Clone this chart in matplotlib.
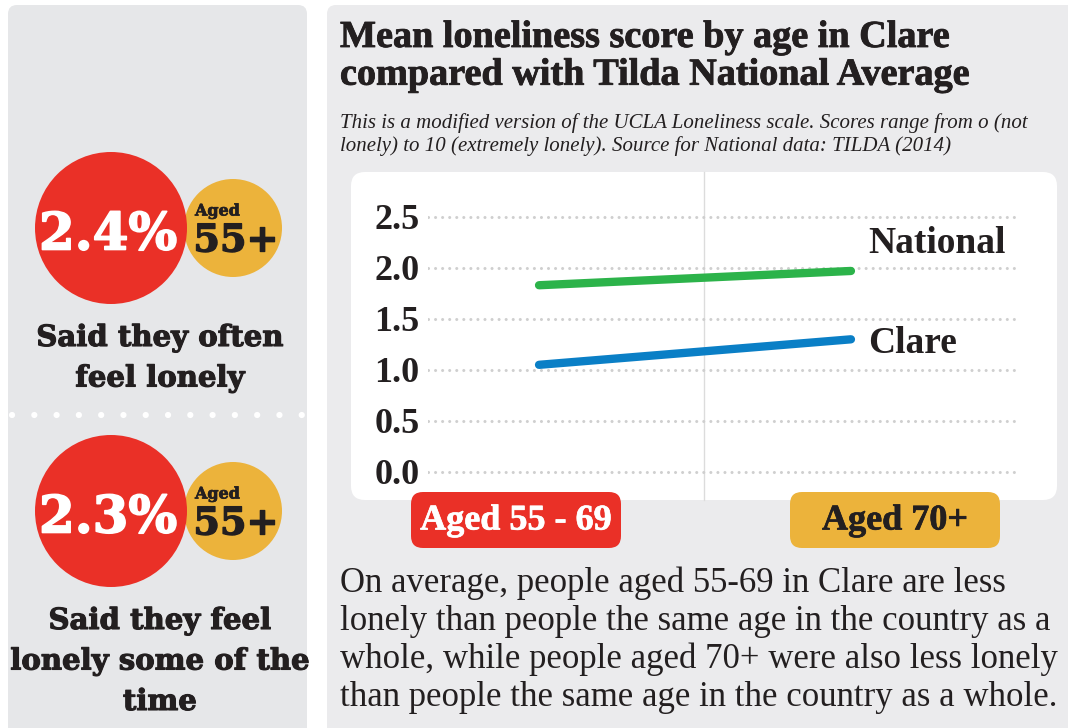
import matplotlib
matplotlib.use('Agg')
import matplotlib.pyplot as plt
import matplotlib.patheffects as pe
from matplotlib.patches import FancyBboxPatch, Circle

# data
age_groups = ['Aged 55 - 69', 'Aged 70+']
national = [1.83, 1.97]
clare = [1.05, 1.30]
y_ticks = [0.0, 0.5, 1.0, 1.5, 2.0, 2.5]
stat_values = ['2.4%', '2.3%']
stat_ages = ['55+', '55+']
stat_captions = ['Said they often\nfeel lonely', 'Said they feel\nlonely some of the\ntime']

title = 'Mean loneliness score by age in Clare\ncompared with Tilda National Average'
subtitle = ('This is a modified version of the UCLA Loneliness scale. Scores range from o (not\n'
            'lonely) to 10 (extremely lonely). Source for National data: TILDA (2014)')
summary = ('On average, people aged 55-69 in Clare are less\n'
           'lonely than people the same age in the country as a\n'
           'whole, while people aged 70+ were also less lonely\n'
           'than people the same age in the country as a whole.')

RED = '#ea3027'
YELLOW = '#ecb33b'
GREEN = '#2cb34a'
BLUE = '#0a7fc6'
DARK = '#231f20'
SERIF = 'Liberation Serif'
WIDE = 'DejaVu Serif'


def heavy(color, w=0.8):
    return [pe.withStroke(linewidth=w, foreground=color)]


W, H = 1068, 728
fig = plt.figure(figsize=(W / 100, H / 100), dpi=100)
fig.patch.set_facecolor('white')

# background layer in pixel coordinates
bg = fig.add_axes([0, 0, 1, 1])
bg.set_xlim(0, W)
bg.set_ylim(H, 0)
bg.axis('off')

bg.add_patch(FancyBboxPatch((8, 5), 299, 740, boxstyle='round,pad=0,rounding_size=9',
                            fc='#e6e7e9', ec='none'))
bg.add_patch(FancyBboxPatch((327, 5), 760, 740, boxstyle='round,pad=0,rounding_size=9',
                            fc='#ebebed', ec='none'))
bg.add_patch(FancyBboxPatch((351, 172), 706, 328, boxstyle='round,pad=0,rounding_size=14',
                            fc='white', ec='none'))
bg.plot([704, 704], [172, 500], color='#dcdcdc', lw=1)

# dotted separator in left panel
bg.plot([12, 305], [415, 415], color='white', lw=4.5, solid_capstyle='round',
        dash_capstyle='round', linestyle=(0, (0.01, 16 / 4.5)))

# stat blocks
for cy, val, age, cap in zip([228, 511], stat_values, stat_ages, stat_captions):
    bg.add_patch(Circle((233, cy), 49, fc=YELLOW, ec='none', zorder=2))
    bg.add_patch(Circle((111, cy), 76, fc=RED, ec='none', zorder=3))
    bg.text(108, cy + 8, val, color='white', fontsize=37, fontweight='bold', family=WIDE,
            ha='center', va='center', zorder=4, path_effects=heavy('white', 1.2))
    bg.text(195, cy - 17, 'Aged', color=DARK, fontsize=11.5, fontweight='bold', family=WIDE,
            ha='left', va='center', zorder=4, path_effects=heavy(DARK, 0.5))
    bg.text(236, cy + 13, age, color=DARK, fontsize=27.5, fontweight='bold', family=WIDE,
            ha='center', va='center', zorder=4, path_effects=heavy(DARK, 1.0))
    bg.text(160, cy + 95, cap, color=DARK, fontsize=21, fontweight='bold', family=WIDE,
            ha='center', va='top', linespacing=1.5, zorder=4, path_effects=heavy(DARK, 0.8))

# titles
bg.text(340, 20, title, color=DARK, fontsize=27.5, fontweight='bold', family=SERIF,
        ha='left', va='top', linespacing=1.1, path_effects=heavy(DARK, 0.6))
bg.text(340, 113, subtitle, color=DARK, fontsize=15, style='italic', family=SERIF,
        ha='left', va='top', linespacing=1.2)

# category badges
for cx, label, fc, tc in zip([516, 895], age_groups, [RED, YELLOW], ['white', DARK]):
    bg.add_patch(FancyBboxPatch((cx - 105, 492), 210, 56,
                                boxstyle='round,pad=0,rounding_size=12', fc=fc, ec='none'))
    bg.text(cx, 521, label, color=tc, fontsize=26, fontweight='bold', family=SERIF,
            ha='center', va='center', path_effects=heavy(tc, 0.5))

# summary paragraph
bg.text(340, 566, summary, color=DARK, fontsize=25, family=SERIF,
        ha='left', va='top', linespacing=1.2)

# chart axes
ax = fig.add_axes([428 / W, 1 - 500 / H, 592 / W, 328 / H])
ax.patch.set_alpha(0)
x = [0, 1]
ax.set_xlim(-0.356, 1.542)
ax.set_ylim(-0.275, 2.94)
for s in ax.spines.values():
    s.set_visible(False)
ax.set_xticks([])
ax.set_yticks(y_ticks)
ax.set_yticklabels([f'{v:.1f}' for v in y_ticks], fontsize=26, fontweight='bold',
                   family=SERIF, color=DARK)
ax.tick_params(axis='y', length=0, pad=6)
ax.yaxis.grid(True, color='#cfcfcf', lw=2.2, linestyle=(0, (0.01, 2.3)),
              dash_capstyle='round')
ax.set_axisbelow(True)

ax.plot(x, national, color=GREEN, lw=6, solid_capstyle='round', zorder=3)
ax.plot(x, clare, color=BLUE, lw=6, solid_capstyle='round', zorder=3)
ax.annotate('National', xy=(x[1], national[1]), xytext=(17, 27), textcoords='offset pixels',
            fontsize=27, fontweight='bold', family=SERIF, color=DARK, va='center', ha='left')
ax.annotate('Clare', xy=(x[1], clare[1]), xytext=(17, -4), textcoords='offset pixels',
            fontsize=27, fontweight='bold', family=SERIF, color=DARK, va='center', ha='left')

fig.savefig('out.png', dpi=100, facecolor='white')
